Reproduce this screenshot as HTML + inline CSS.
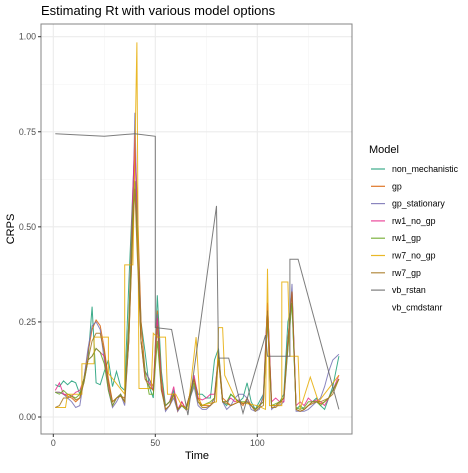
<!DOCTYPE html>
<html><head><meta charset="utf-8"><style>
body{margin:0;background:#fff;font-family:"Liberation Sans",sans-serif}
</style></head><body>
<svg id="c" width="468" height="468" xmlns="http://www.w3.org/2000/svg"></svg>
<script>
const T=[1,3,5,7,9,11,13,15,17,19,21,23,25,27,29,31,33,35,37,39,40,41,43,45,47,49,51,53,55,57,59,61,63,65,67,69,71,73,75,77,79,81,83,85,87,89,91,93,95,97,99,101,103,105,107,109,111,113,115,117,119,121,123,125,127,129,131,133,135,137,140];
const nonMech=[.085,.08,.095,.085,.095,.09,.06,.09,.15,.29,.09,.085,.12,.15,.08,.12,.08,.07,.35,.6,.72,.55,.25,.17,.08,.05,.32,.12,.03,.04,.07,.02,.03,.02,.06,.1,.06,.06,.05,.05,.15,.18,.04,.03,.06,.05,.04,.05,.09,.04,.02,.04,.06,.3,.03,.03,.04,.06,.25,.3,.02,.03,.02,.03,.04,.05,.03,.02,.05,.08,.16];
const gp=[.065,.065,.06,.055,.05,.04,.05,.1,.17,.23,.255,.24,.18,.1,.04,.05,.055,.05,.2,.5,.7,.6,.25,.12,.1,.08,.28,.1,.02,.03,.06,.015,.04,.02,.06,.1,.05,.03,.03,.03,.05,.17,.05,.04,.03,.035,.04,.03,.05,.03,.02,.03,.05,.3,.03,.03,.04,.05,.2,.33,.02,.015,.02,.03,.04,.04,.035,.04,.05,.07,.1];
const gpStat=[.065,.065,.06,.05,.04,.025,.03,.1,.18,.24,.25,.23,.15,.07,.025,.04,.06,.03,.2,.55,.8,.55,.2,.12,.1,.07,.27,.08,.015,.03,.05,.015,.03,.02,.05,.08,.03,.02,.02,.03,.05,.16,.04,.02,.03,.05,.06,.06,.05,.02,.015,.02,.06,.25,.02,.03,.03,.04,.18,.35,.015,.015,.015,.02,.03,.04,.05,.08,.12,.15,.165];
const rw1NoGp=[.07,.09,.06,.06,.055,.065,.07,.1,.15,.16,.18,.17,.16,.08,.03,.05,.06,.04,.25,.6,.74,.5,.2,.1,.09,.07,.26,.08,.03,.04,.08,.02,.04,.02,.06,.11,.05,.045,.05,.06,.06,.16,.04,.04,.05,.04,.045,.035,.04,.03,.02,.03,.04,.3,.04,.05,.04,.04,.2,.33,.03,.04,.03,.05,.04,.045,.04,.03,.05,.07,.11];
const rw1Gp=[.065,.06,.07,.06,.055,.05,.06,.1,.15,.16,.18,.17,.14,.07,.03,.05,.06,.04,.25,.55,.62,.5,.2,.12,.06,.06,.2,.07,.03,.04,.06,.02,.03,.02,.05,.09,.04,.03,.035,.04,.05,.16,.04,.04,.06,.05,.04,.04,.04,.03,.02,.03,.04,.26,.03,.035,.04,.05,.18,.3,.025,.02,.025,.04,.04,.04,.03,.04,.05,.07,.1];
const rw7Gp=[.025,.03,.05,.05,.055,.045,.05,.09,.15,.2,.22,.22,.17,.09,.04,.05,.055,.04,.2,.5,.6,.45,.2,.1,.08,.07,.24,.07,.02,.03,.06,.02,.03,.025,.06,.1,.04,.025,.025,.03,.04,.15,.04,.035,.03,.035,.04,.035,.04,.03,.015,.025,.03,.28,.025,.025,.035,.05,.2,.33,.02,.015,.02,.03,.035,.04,.04,.045,.05,.06,.1];
const rw7NoGpT=[1,6,7,14,14,20,20,27,27,35,35,39,41,42,48,49,51,55,56,60,63,66,70,72,80,81,83,84,90,100,104,105,106,112,112,115,116,120,121,126,130,140];
const rw7NoGp=[.025,.025,.06,.06,.14,.14,.21,.21,.115,.06,.4,.4,.985,.075,.075,.22,.21,.21,.06,.06,.03,.02,.21,.03,.04,.235,.235,.11,.04,.03,.02,.39,.03,.03,.355,.355,.16,.16,.02,.105,.04,.11];
const vbT=[1,25,40,50,50,58,66,80,81,86,93,104,105,116,116,120,140];
const vb=[.745,.738,.745,.738,.235,.23,.005,.555,.155,.155,.01,.215,.16,.16,.415,.415,.02];
const names=["non_mechanistic","gp","gp_stationary","rw1_no_gp","rw1_gp","rw7_no_gp","rw7_gp","vb_rstan","vb_cmdstanr"];
const colors=["#1B9E77","#D95F02","#7570B3","#E7298A","#66A61E","#E6AB02","#A6761D","#666666",null];
const xTicks=[0,50,100];const yTicks=[0,0.25,0.5,0.75,1];const yLabels=["0.00","0.25","0.50","0.75","1.00"];
const L=41,R=352,Tp=24,B=434;
const xs=v=>53.3+v*2.04, ys=v=>417-v*380.3;
const svg=document.getElementById('c');const NS="http://www.w3.org/2000/svg";
function mk(t,a,p){const e=document.createElementNS(NS,t);for(const k in a)e.setAttribute(k,a[k]);(p||svg).appendChild(e);return e;}
const title=mk('text',{x:41,y:15,'font-size':13,fill:'#000'});title.textContent="Estimating Rt with various model options";


[25,75,125].forEach(v=>{const l=mk('line',{x1:xs(v),x2:xs(v),y1:Tp,y2:B,stroke:'#f3f3f3','stroke-width':.6});});
[.125,.375,.625,.875].forEach(v=>{const l=mk('line',{x1:L,x2:R,y1:ys(v),y2:ys(v),stroke:'#f3f3f3','stroke-width':.6});});
xTicks.forEach(v=>{const l=mk('line',{x1:xs(v),x2:xs(v),y1:Tp,y2:B,stroke:'#ebebeb','stroke-width':1.1});
 const tk=mk('line',{x1:xs(v),x2:xs(v),y1:B,y2:B+3,stroke:'#333'});
 const t=mk('text',{x:xs(v),y:B+12,'font-size':8.8,fill:'#4d4d4d','text-anchor':'middle'});t.textContent=v;});
yTicks.forEach((v,i)=>{const l=mk('line',{x1:L,x2:R,y1:ys(v),y2:ys(v),stroke:'#ebebeb','stroke-width':1.1});
 const tk=mk('line',{x1:L-3,x2:L,y1:ys(v),y2:ys(v),stroke:'#333'});
 const t=mk('text',{x:L-5,y:ys(v)+3,'font-size':8.8,fill:'#4d4d4d','text-anchor':'end'});t.textContent=yLabels[i];});
const series=[[T,nonMech],[T,gp],[T,gpStat],[T,rw1NoGp],[T,rw1Gp],[rw7NoGpT,rw7NoGp],[T,rw7Gp],[vbT,vb]];
series.forEach((s,i)=>{const d=s[0].map((t,j)=>(j?'L':'M')+xs(t).toFixed(1)+','+ys(s[1][j]).toFixed(1)).join('');
 const p=mk('path',{d:d,fill:'none',stroke:colors[i],'stroke-width':1,'stroke-opacity':.85});
 
 });
const fr=mk('rect',{x:L,y:Tp,width:R-L,height:B-Tp,fill:'none',stroke:'#333','stroke-width':1,'stroke-opacity':.6});

const xt=mk('text',{x:197,y:459,'font-size':11,'text-anchor':'middle'});xt.textContent="Time";
const yt=mk('text',{x:14,y:229,'font-size':11,'text-anchor':'middle',transform:'rotate(-90 14 229)'});yt.textContent="CRPS";
const lt=mk('text',{x:369,y:153,'font-size':11});lt.textContent="Model";
names.forEach((n,i)=>{const y=169+i*17.3;const g=mk('g',{});
 if(colors[i])mk('line',{x1:371,x2:385,y1:y,y2:y,stroke:colors[i],'stroke-width':1.2,'stroke-opacity':.85},g);
 const t=mk('text',{x:392,y:y+3,'font-size':8.8,fill:'#000'},g);t.textContent=n;});
</script>
</body></html>
